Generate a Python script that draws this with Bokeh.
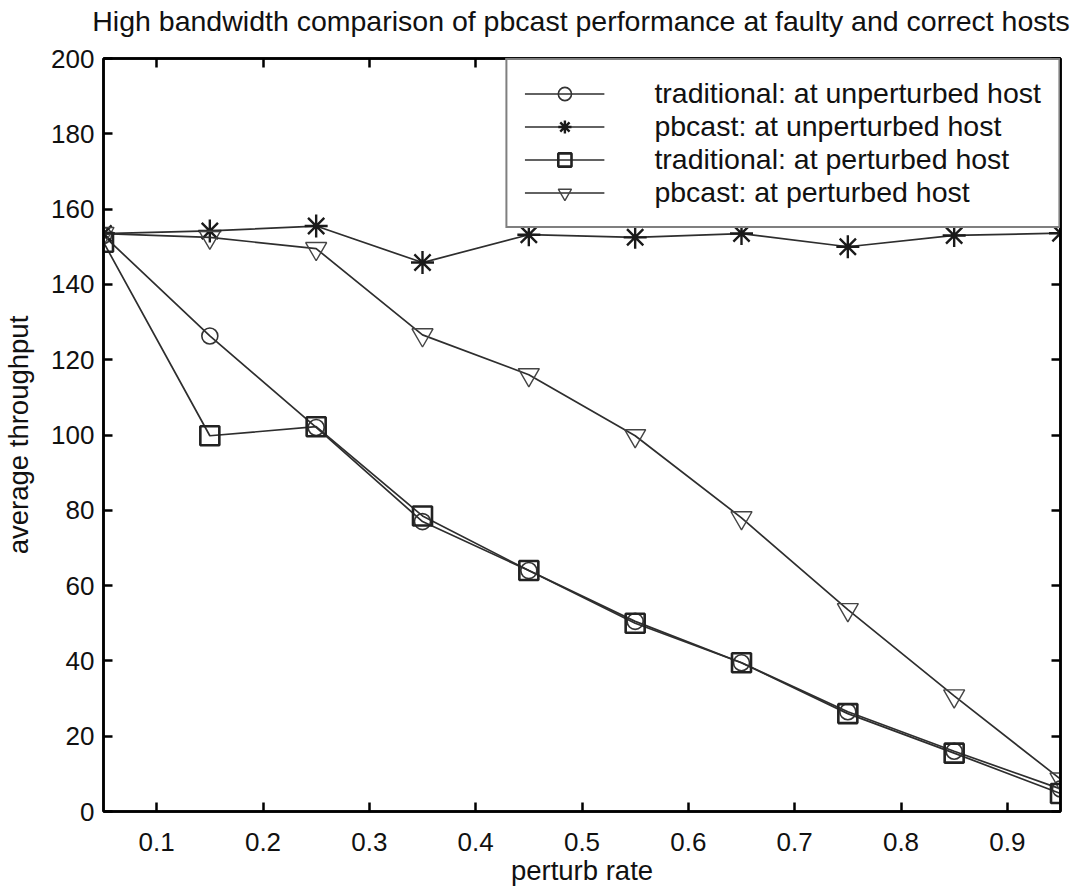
from bokeh.plotting import figure
from bokeh.models import (Legend, LegendItem, LinearAxis, FixedTicker, Range1d,
                          CustomJSTickFormatter, Label)
from bokeh.embed import file_html
from bokeh.resources import INLINE

perturb_rate = [0.05, 0.15, 0.25, 0.35, 0.45, 0.55, 0.65, 0.75, 0.85, 0.95]
trad_unperturbed = [153, 126.3, 102, 77, 64, 50.5, 39.5, 26.5, 16, 6]
pbcast_unperturbed = [153.5, 154.2, 155.5, 145.8, 153.2, 152.5, 153.5, 150, 153, 153.6]
trad_perturbed = [151.2, 99.8, 102.2, 78.5, 64, 50, 39.5, 26, 15.5, 4.8]
pbcast_perturbed = [153.5, 152.5, 149.5, 126.6, 116, 99.8, 78, 53.6, 30.7, 8.6]

labels = ["traditional: at unperturbed host", "pbcast: at unperturbed host",
          "traditional: at perturbed host", "pbcast: at perturbed host"]
x_ticks = [0.1, 0.2, 0.3, 0.4, 0.5, 0.6, 0.7, 0.8, 0.9]
y_ticks = [0, 20, 40, 60, 80, 100, 120, 140, 160, 180, 200]
title_text = "High bandwidth comparison of pbcast performance at faulty and correct hosts"
x_label = "perturb rate"
y_label = "average throughput"

FONT = "Liberation Sans"
W, H = 1078, 888
ML, MR, MT, MB = 103, 18, 58, 77
FW = W - ML - MR

p = figure(width=W, height=H, output_backend="svg", toolbar_location=None,
           x_range=Range1d(0.05, 0.95), y_range=Range1d(0, 200),
           min_border_left=ML, min_border_right=MR, min_border_top=MT, min_border_bottom=MB)
p.grid.visible = False
p.outline_line_color = "black"
p.outline_line_width = 2.5
p.background_fill_color = "white"
p.border_fill_color = "white"

p.xaxis.axis_label = x_label
p.yaxis.axis_label = y_label
for ax in [p.xaxis[0], p.yaxis[0]]:
    ax.axis_label_text_font = FONT
    ax.axis_label_text_font_size = "27.5px"
    ax.axis_label_text_font_style = "normal"
    ax.axis_label_text_color = "#111111"
    ax.major_label_text_font = FONT
    ax.major_label_text_font_size = "26px"
    ax.major_label_text_color = "#111111"
    ax.axis_line_width = 2.5
    ax.major_tick_in = 9
    ax.major_tick_out = 0
    ax.major_tick_line_width = 2.5
    ax.minor_tick_line_color = None
p.xaxis[0].ticker = FixedTicker(ticks=x_ticks)
p.yaxis[0].ticker = FixedTicker(ticks=y_ticks)
p.xaxis[0].major_label_standoff = 21
p.xaxis[0].axis_label_standoff = 1
p.yaxis[0].major_label_standoff = 9
p.yaxis[0].axis_label_standoff = 14

blank = CustomJSTickFormatter(code="return ''")
top = LinearAxis(ticker=FixedTicker(ticks=x_ticks), formatter=blank,
                 major_tick_in=9, major_tick_out=0, major_tick_line_width=2.5,
                 axis_line_width=2.5, minor_tick_line_color=None, major_label_standoff=0)
right = LinearAxis(ticker=FixedTicker(ticks=y_ticks), formatter=blank,
                   major_tick_in=9, major_tick_out=0, major_tick_line_width=2.5,
                   axis_line_width=2.5, minor_tick_line_color=None, major_label_standoff=0)
p.add_layout(top, "above")
p.add_layout(right, "right")

# title drawn as a label in the panel above the frame
p.add_layout(Label(x=FW / 2 - 1, y=38, x_units="screen", y_units="screen",
                   text=title_text, text_align="center", text_baseline="alphabetic",
                   text_font=FONT, text_font_size="28.5px", text_color="#111111"), "above")

LC = "#2e2e2e"
l1 = p.line(perturb_rate, trad_unperturbed, line_color=LC, line_width=1.7)
s1 = p.scatter(perturb_rate, trad_unperturbed, marker="circle", size=16, fill_color=None,
               line_color="#333333", line_width=1.6)
l2 = p.line(perturb_rate, pbcast_unperturbed, line_color=LC, line_width=1.7)
s2 = p.scatter(perturb_rate, pbcast_unperturbed, marker="asterisk", size=23,
               line_color="#1a1a1a", line_width=2.4)
l4 = p.line(perturb_rate, pbcast_perturbed, line_color=LC, line_width=1.7)
s4 = p.scatter(perturb_rate, pbcast_perturbed, marker="inverted_triangle", size=21, fill_color=None,
               line_color="#444444", line_width=1.4)
l3 = p.line(perturb_rate, trad_perturbed, line_color=LC, line_width=1.7)
s3 = p.scatter(perturb_rate, trad_perturbed, marker="square", size=19, fill_color=None,
               line_color="#222222", line_width=2.6)

legend = Legend(items=[LegendItem(label=labels[0], renderers=[l1, s1]),
                       LegendItem(label=labels[1], renderers=[l2, s2]),
                       LegendItem(label=labels[2], renderers=[l3, s3]),
                       LegendItem(label=labels[3], renderers=[l4, s4])],
                location="top_right", margin=0, padding=17, spacing=0,
                glyph_width=80, glyph_height=33, label_height=33, label_standoff=50,
                label_text_font=FONT, label_text_font_size="28.5px", label_text_color="#111111",
                border_line_color="black", border_line_width=2.5,
                background_fill_color="white", background_fill_alpha=1.0)
p.add_layout(legend, "center")

open("out.html", "w").write(file_html(p, INLINE))
